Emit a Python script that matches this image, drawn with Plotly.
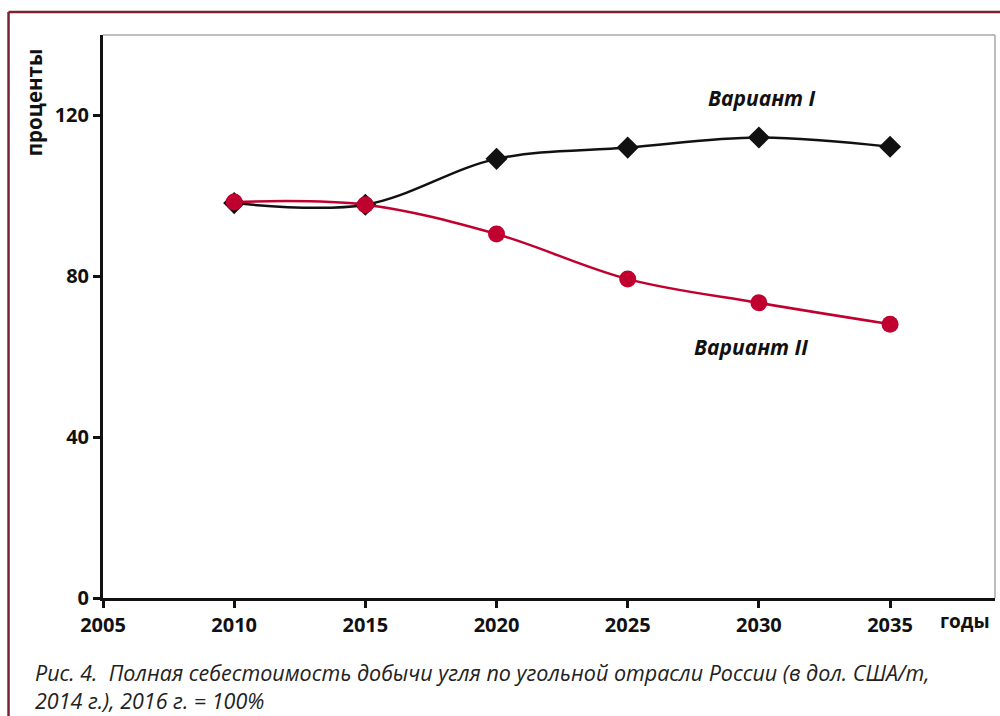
import plotly.graph_objects as go

# Years on the horizontal axis
years = [2010, 2015, 2020, 2025, 2030, 2035]

# Full coal production cost index, 2016 = 100
variant_1 = [98.2, 97.8, 109.2, 112.0, 114.5, 112.2]
variant_2 = [98.5, 97.8, 90.5, 79.3, 73.4, 68.1]

x_ticks = [2005, 2010, 2015, 2020, 2025, 2030, 2035]
y_ticks = [0, 40, 80, 120]

series_names = ["Вариант I", "Вариант II"]
y_title = "проценты"
x_title = "годы"
caption_lines = [
    "Рис. 4.  Полная себестоимость добычи угля по угольной отрасли России (в дол. США/т,",
    "2014 г.), 2016 г. = 100%",
]

RED = "#c0002e"
BLACK = "#111111"
FRAME = "#7a2333"
FONT = "Open Sans"

fig = go.Figure()

fig.add_trace(go.Scatter(
    x=years, y=variant_1, name=series_names[0],
    mode="lines+markers",
    line=dict(color=BLACK, width=2.5, shape="spline", smoothing=1.0),
    marker=dict(symbol="diamond", size=17, color=BLACK),
))
fig.add_trace(go.Scatter(
    x=years, y=variant_2, name=series_names[1],
    mode="lines+markers",
    line=dict(color=RED, width=2.5, shape="spline", smoothing=1.0),
    marker=dict(symbol="circle", size=17, color=RED),
))

fig.update_layout(
    width=1000, height=716,
    margin=dict(l=103, r=5, t=35, b=118),
    paper_bgcolor="white", plot_bgcolor="white",
    showlegend=False,
    font=dict(family=FONT, color="#111111"),
    xaxis=dict(
        range=[2005, 2039], tickvals=x_ticks, showgrid=False, zeroline=False,
        showline=True, linecolor=BLACK, linewidth=3,
        ticks="outside", ticklen=7, tickwidth=2.5, tickcolor=BLACK,
        tickfont=dict(family=FONT, size=20, weight="bold", color="#111111"),
    ),
    yaxis=dict(
        range=[0, 140], tickvals=y_ticks, showgrid=False, zeroline=False,
        showline=True, linecolor=BLACK, linewidth=3,
        ticks="outside", ticklen=7, tickwidth=2.5, tickcolor=BLACK,
        tickfont=dict(family=FONT, size=20, weight="bold", color="#111111"),
    ),
    shapes=[
        # thin grey top and right edges of the plot area
        dict(type="line", xref="paper", yref="paper", x0=0, x1=1, y0=1, y1=1,
             line=dict(color="#a8a8a8", width=1.5), layer="below"),
        dict(type="line", xref="paper", yref="paper", x0=1, x1=1, y0=0, y1=1,
             line=dict(color="#a8a8a8", width=1.5), layer="below"),
        # dark red page frame (left and top edges)
        dict(type="line", xref="paper", yref="paper", x0=-0.1059, x1=-0.1059,
             y0=-0.3, y1=1.041, line=dict(color=FRAME, width=2.5)),
        dict(type="line", xref="paper", yref="paper", x0=-0.1059, x1=1.2,
             y0=1.041, y1=1.041, line=dict(color=FRAME, width=2.5)),
    ],
    annotations=[
        dict(x=2030.1, y=124.3, xref="x", yref="y", text="<b><i>" + series_names[0] + "</i></b>",
             showarrow=False, font=dict(family=FONT, size=21, color="#111111")),
        dict(x=2029.7, y=62.4, xref="x", yref="y", text="<b><i>" + series_names[1] + "</i></b>",
             showarrow=False, font=dict(family=FONT, size=21, color="#111111")),
        dict(x=-0.0953, y=0.98, xref="paper", yref="paper", text="<b>" + y_title + "</b>",
             textangle=-90, showarrow=False, font=dict(family=FONT, size=20.5, color="#111111")),
        dict(x=0.966, y=-0.040, xref="paper", yref="paper", text="<b>" + x_title + "</b>",
             showarrow=False, xanchor="center", yanchor="middle",
             font=dict(family=FONT, size=19, color="#111111")),
        dict(x=-0.0785, y=-0.158, xref="paper", yref="paper",
             text="<i>" + "<br>".join(caption_lines) + "</i>",
             showarrow=False, xanchor="left", yanchor="middle", align="left",
             font=dict(family=FONT, size=21.5, color="#222222")),
    ],
)

fig.write_html("out.html")
